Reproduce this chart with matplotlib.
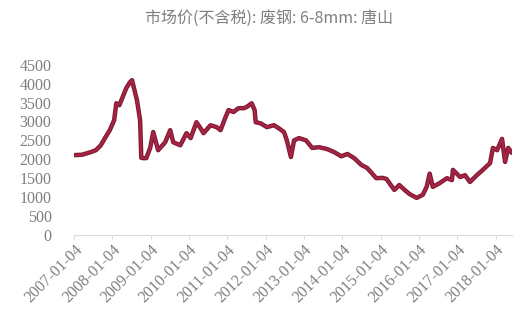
import pandas as pd
import matplotlib
matplotlib.use("Agg")
import matplotlib.pyplot as plt

# 市场价(不含税): 废钢: 6-8mm: 唐山
dates = ["2007-01-04", "2007-03-20", "2007-06-12", "2007-07-30", "2007-09-15", "2007-10-25",
         "2007-12-10", "2008-01-20", "2008-02-10", "2008-03-10", "2008-04-10", "2008-05-15",
         "2008-06-20", "2008-07-09", "2008-08-25", "2008-09-24", "2008-10-05", "2008-10-24",
         "2008-11-22", "2008-12-29", "2009-01-27", "2009-02-24", "2009-03-15", "2009-05-21",
         "2009-07-08", "2009-08-06", "2009-10-12", "2009-12-10", "2010-01-19", "2010-03-15",
         "2010-04-23", "2010-05-22", "2010-07-27", "2010-09-23", "2010-10-31", "2010-12-17",
         "2011-01-15", "2011-03-04", "2011-04-20", "2011-06-09", "2011-07-06", "2011-08-24",
         "2011-09-21", "2011-10-01", "2011-11-17", "2012-01-16", "2012-03-23", "2012-05-08",
         "2012-06-27", "2012-07-24", "2012-09-01", "2012-10-01", "2012-11-17", "2013-01-23",
         "2013-03-23", "2013-05-27", "2013-08-12", "2013-10-18", "2013-12-25", "2014-02-22",
         "2014-04-27", "2014-07-05", "2014-08-29", "2014-11-24", "2015-01-20", "2015-03-01",
         "2015-05-15", "2015-07-01", "2015-08-21", "2015-10-08", "2015-12-14", "2016-02-10",
         "2016-03-18", "2016-04-16", "2016-05-16", "2016-07-20", "2016-09-27", "2016-11-14",
         "2016-11-24", "2017-02-01", "2017-03-19", "2017-05-05", "2017-07-10", "2017-09-05",
         "2017-11-13", "2017-12-10", "2018-01-19", "2018-03-07", "2018-04-05", "2018-05-05",
         "2018-06-04"]
prices = [2110, 2120, 2190, 2240, 2370, 2560,
          2770, 3030, 3480, 3430, 3640, 3880,
          4040, 4090, 3560, 3030, 2040, 2030,
          2030, 2300, 2720, 2430, 2240, 2450,
          2770, 2450, 2370, 2690, 2560, 2980,
          2820, 2690, 2900, 2850, 2770, 3110,
          3300, 3250, 3350, 3350, 3380, 3480,
          3300, 2980, 2950, 2850, 2900, 2820,
          2720, 2500, 2060, 2500, 2560, 2500,
          2300, 2320, 2270, 2190, 2080, 2140,
          2030, 1850, 1770, 1500, 1510, 1480,
          1190, 1320, 1190, 1080, 980, 1060,
          1270, 1620, 1270, 1370, 1500, 1450,
          1720, 1530, 1580, 1400, 1580, 1720,
          1900, 2300, 2240, 2540, 1930, 2300,
          2190]

yticks = list(range(0, 4501, 500))
xtick_labels = [f"{y}-01-04" for y in range(2007, 2019)]

s = pd.Series(prices, index=pd.to_datetime(dates))

fig = plt.figure(figsize=(5.2, 3.25), dpi=100)
ax = fig.add_axes([0.142, 0.277, 0.843, 0.524])

ax.plot(s.index, s.values, color="#7d1a33", linewidth=3.2, solid_joinstyle="round")
ax.plot(s.index, s.values, color="#a82444", linewidth=1.6, solid_joinstyle="round")

ax.set_ylim(0, 4500)
ax.set_yticks(yticks)
ax.set_xlim(pd.Timestamp("2007-01-01"), pd.Timestamp("2018-06-12"))
ax.set_xticks(pd.to_datetime(xtick_labels))
ax.set_xticklabels(xtick_labels, rotation=45, ha="right", rotation_mode="anchor")

for side in ["top", "right", "left"]:
    ax.spines[side].set_visible(False)
ax.spines["bottom"].set_color("#d9d9d9")
ax.tick_params(axis="y", length=0, pad=16, labelcolor="#7f7f7f")
ax.tick_params(axis="x", length=3, color="#d9d9d9", labelcolor="#7f7f7f", pad=2)
for lab in ax.get_xticklabels() + ax.get_yticklabels():
    lab.set_fontfamily("Liberation Serif")
    lab.set_fontsize(11.5)

fig.text(0.518, 0.945, "市场价(不含税): 废钢: 6-8mm: 唐山", ha="center", va="center",
         fontsize=11.5, color="#7f7f7f", family=["Noto Sans CJK SC", "DejaVu Sans"])

fig.savefig("out.png", dpi=100)
